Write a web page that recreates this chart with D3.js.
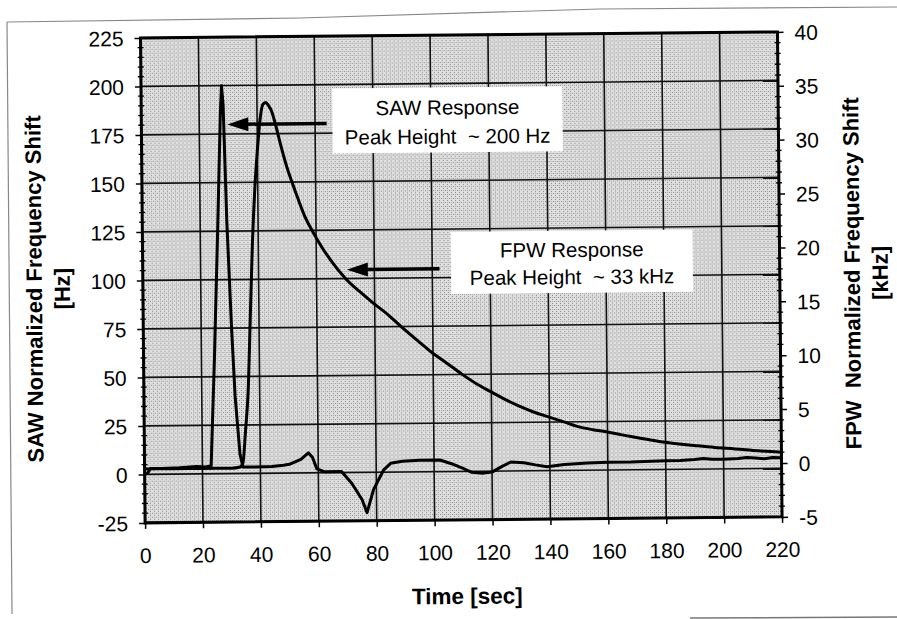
<!DOCTYPE html>
<html><head><meta charset="utf-8">
<script src="https://cdn.jsdelivr.net/npm/d3@7"></script>
<style>
body{margin:0;background:#fff}
svg{display:block}
text{font-family:"Liberation Sans",Arial,sans-serif;fill:#000;white-space:pre}
</style>
</head><body>
<svg id="chart" width="897" height="619"></svg>
<script>
// ---------- data ----------
const sawTime = [0,1,2,6,12,18,21,23,24.5,26,27.3,27.8,28.3,29.2,30.5,31.5,33,34,38,44,48,50,54,56.6,58,59.5,62,68,71.5,75,76.7,79,82.5,85,89,95,102,106,110,113,117,120,123,126.5,131,135,139,145,153,160,168,175,180,185,190,193,196,200,205,208,211,214,217,220];
const sawHz   = [0,0.5,3,3,3.3,3.8,3.5,4,60,125,185,200,190,130,75,40,10,3.3,3.3,3.5,4,4.5,7,10.3,8,2,0.5,0.5,-5.6,-14,-20.8,-9,1,4.5,5.5,6,6,4,1.5,-0.5,-1,-0.5,2,4.6,4.2,3,2,3,3.7,4,4,4.3,4.5,4.5,5,5.5,5,5,5.3,5.8,5.5,5,5.6,5.5];

const fpwTime = [0,10,20,30,33,34,35,36,37,38,39,40,41,42,43,44,45,46,48,50,53,56,59,62,65,70,76,79,85,89,95,99.4,105,110,115,119.6,125,129.6,135,139.4,145,150.5,155,159.5,165,170,179,190,197,204,212,220];
const fpwKHz  = [0,0,0,0,0.1,0.5,3.5,7,14,21,26,29.5,32.3,33.7,33.9,33.6,33.1,32.2,30,28,25.6,23.4,21.8,20.4,19.2,17.5,16,15.3,14,13,11.6,10.6,9.5,8.5,7.6,6.9,6.1,5.5,4.9,4.5,4,3.5,3.25,3.05,2.75,2.5,2.05,1.7,1.5,1.35,1.15,1.0];

const timeTicks = [0,20,40,60,80,100,120,140,160,180,200,220];
const sawTicks  = [-25,0,25,50,75,100,125,150,175,200,225];
const fpwTicks  = [-5,0,5,10,15,20,25,30,35,40];

const xTitle = "Time [sec]";
const yLeftTitle = ["SAW Normalized Frequency Shift", "[Hz]"];
const yRightTitle = ["FPW  Normalized Frequency Shift", "[kHz]"];

// annotations: text lines, and arrows (time, SAW-scale value)
const sawNote = ["SAW Response", "Peak Height  ~ 200 Hz"];
const fpwNote = ["FPW Response", "Peak Height  ~ 33 kHz"];
const sawArrow = {from:[64, 180], to:[29.7, 180]};
const fpwArrow = {from:[102.5, 104.5], to:[70.5, 104.5]};

// ---------- layout ----------
const svg = d3.select("#chart");
const L = 143, R = 780, T = 35, B = 520;

const x = d3.scaleLinear().domain([0,220]).range([L,R]);
const yL = d3.scaleLinear().domain([-25,225]).range([B,T]);
const yR = d3.scaleLinear().domain([-5,40]).range([B,T]);

// outer page frame (scanned figure border)
svg.append("path").attr("d","M7,22 L12,614").attr("stroke","#888").attr("fill","none").attr("stroke-width",1.2);
svg.append("path").attr("d","M7,22 L300,18 L600,9 L897,7").attr("stroke","#888").attr("fill","none").attr("stroke-width",1.2);
svg.append("path").attr("d","M690,618 L897,617").attr("stroke","#777").attr("fill","none").attr("stroke-width",1.5);

const g = svg.append("g").attr("transform","rotate(-0.54,450,300)");

// stipple pattern
const defs = svg.append("defs");
const pat = defs.append("pattern").attr("id","stip").attr("width",4).attr("height",4).attr("patternUnits","userSpaceOnUse");
pat.append("rect").attr("width",4).attr("height",4).attr("fill","#e0e0e0");
pat.append("rect").attr("x",0).attr("y",0).attr("width",1).attr("height",1).attr("fill","#888");
pat.append("rect").attr("x",2).attr("y",2).attr("width",1).attr("height",1).attr("fill","#888");
pat.append("rect").attr("x",0).attr("y",2).attr("width",1).attr("height",1).attr("fill","#aaa");

g.append("rect").attr("x",L).attr("y",T).attr("width",R-L).attr("height",B-T).attr("fill","url(#stip)");

// grid
g.append("g").selectAll("line").data(timeTicks).join("line")
  .attr("x1",d=>x(d)).attr("x2",d=>x(d)).attr("y1",T).attr("y2",B)
  .attr("stroke","#111").attr("stroke-width",1.6);
g.append("g").selectAll("line").data(sawTicks).join("line")
  .attr("x1",L).attr("x2",R).attr("y1",d=>yL(d)).attr("y2",d=>yL(d))
  .attr("stroke","#111").attr("stroke-width",1.6);

// annotation boxes (white) placed relative to data coordinates
const sawBox = {x0:x(66), x1:x(145.5), y0:yL(198), y1:yL(164.5)};
const fpwBox = {x0:x(106.5), x1:x(190), y0:yL(123.5), y1:yL(91.5)};
[sawBox,fpwBox].forEach(b=>{
  g.append("rect").attr("x",b.x0).attr("y",b.y0).attr("width",b.x1-b.x0).attr("height",b.y1-b.y0).attr("fill","#fff");
});

// axes
const fmt = d => String(d);
const axL = d3.axisLeft(yL).tickValues(sawTicks).tickSize(6).tickFormat(fmt);
const axR = d3.axisRight(yR).tickValues(fpwTicks).tickSize(6).tickFormat(fmt);
const axB = d3.axisBottom(x).tickValues(timeTicks).tickSize(6).tickFormat(fmt);

const minorL = d3.range(-25,226,5).filter(v=>v%25!==0);
const minorR = d3.range(-5,41,1).filter(v=>v%5!==0);
g.append("g").selectAll("line").data(minorL).join("line")
  .attr("x1",L-3).attr("x2",L+3).attr("y1",d=>yL(d)).attr("y2",d=>yL(d)).attr("stroke","#000").attr("stroke-width",1.3);
g.append("g").selectAll("line").data(minorR).join("line")
  .attr("x1",R-3).attr("x2",R+3).attr("y1",d=>yR(d)).attr("y2",d=>yR(d)).attr("stroke","#000").attr("stroke-width",1.3);

function styleAxis(sel){
  sel.select(".domain").remove();
  sel.selectAll(".tick line").attr("stroke","#000").attr("stroke-width",1.5);
  sel.selectAll(".tick text").style("font-size","21px").attr("fill","#000");
}
const gl = g.append("g").attr("transform",`translate(${L},0)`).call(axL); styleAxis(gl);
gl.selectAll(".tick text").attr("x",-17).attr("dy","0.36em");
const gr = g.append("g").attr("transform",`translate(${R},0)`).call(axR); styleAxis(gr);
gr.selectAll(".tick text").attr("x",17).attr("dy","0.36em");
const gb = g.append("g").attr("transform",`translate(0,${B})`).call(axB); styleAxis(gb);
gb.selectAll(".tick text").attr("y",40).attr("dy","0");

// plot frame
g.append("rect").attr("x",L).attr("y",T).attr("width",R-L).attr("height",B-T)
  .attr("fill","none").attr("stroke","#000").attr("stroke-width",3);

// curves
const lineSaw = d3.line().x(d=>x(d[0])).y(d=>yL(d[1])).curve(d3.curveLinear);
const lineFpw = d3.line().x(d=>x(d[0])).y(d=>yR(d[1])).curve(d3.curveMonotoneX);
g.append("path").datum(fpwTime.map((t,i)=>[t,fpwKHz[i]])).attr("d",lineFpw)
  .attr("fill","none").attr("stroke","#000").attr("stroke-width",3).attr("stroke-linejoin","round");
g.append("path").datum(sawTime.map((t,i)=>[t,sawHz[i]])).attr("d",lineSaw)
  .attr("fill","none").attr("stroke","#000").attr("stroke-width",3).attr("stroke-linejoin","round");

// annotation texts
function note(lines, cx, ys){
  lines.forEach((s,i)=>{
    g.append("text").attr("x",cx).attr("y",ys[i]).attr("text-anchor","middle")
      .attr("xml:space","preserve").style("font-size","20.5px").text(s);
  });
}
note(sawNote, (sawBox.x0+sawBox.x1)/2, [yL(184), yL(169)]);
note(fpwNote, (fpwBox.x0+fpwBox.x1)/2, [yL(110), yL(96)]);

// arrows
function arrow(a){
  const x1=x(a.from[0]), y1=yL(a.from[1]), x2=x(a.to[0]), y2=yL(a.to[1]);
  g.append("line").attr("x1",x1).attr("y1",y1).attr("x2",x2+18).attr("y2",y2)
    .attr("stroke","#000").attr("stroke-width",3.5);
  g.append("path").attr("d",`M${x2},${y2} L${x2+21},${y2-7} L${x2+21},${y2+7} Z`).attr("fill","#000");
}
arrow(sawArrow); arrow(fpwArrow);

// axis titles
function vTitle(s, bx, cy){
  g.append("text").attr("transform",`translate(${bx},${cy}) rotate(-90)`).attr("text-anchor","middle")
    .attr("xml:space","preserve").style("font-size","22px").style("font-weight","bold").text(s);
}
vTitle(yLeftTitle[0], 42, 285);
vTitle(yLeftTitle[1], 70, 285);
vTitle(yRightTitle[0], 860, 277);
vTitle(yRightTitle[1], 888, 277);
g.append("text").attr("x",(L+R)/2+3).attr("y",604).attr("text-anchor","middle")
  .style("font-size","22.5px").style("font-weight","bold").text(xTitle);
</script>
</body></html>
